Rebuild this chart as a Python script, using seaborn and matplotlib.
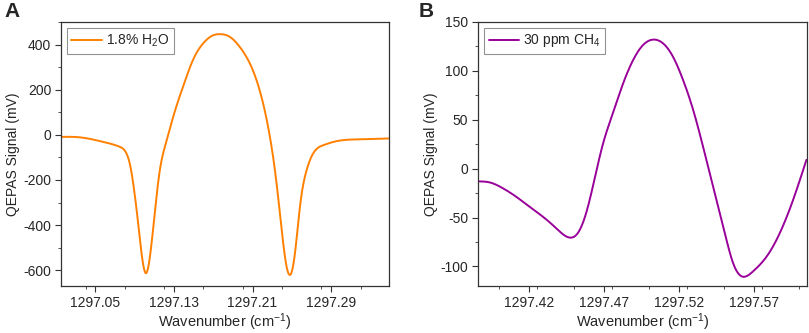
import numpy as np
import pandas as pd
import matplotlib
matplotlib.use("Agg")
import matplotlib.pyplot as plt
from matplotlib.ticker import MultipleLocator, FixedLocator
import seaborn as sns

# ------------------------------
# Data
# ------------------------------
h2o_wn = [1297.0153, 1297.034, 1297.0577, 1297.0748, 1297.0816, 1297.0857, 1297.089,
          1297.0924, 1297.0962, 1297.1013, 1297.106, 1297.1104, 1297.1155, 1297.1224,
          1297.1291, 1297.1393, 1297.1495, 1297.1597, 1297.1699, 1297.1767, 1297.1869,
          1297.1971, 1297.2073, 1297.2141, 1297.2208, 1297.2277, 1297.2328, 1297.2379,
          1297.243, 1297.248, 1297.2532, 1297.2583, 1297.2651, 1297.2718, 1297.282,
          1297.2957, 1297.3194, 1297.349]
h2o_sig = [-9, -11, -31, -53, -82, -141, -230,
           -348, -496, -613, -525, -348, -160, -28,
           78, 214, 333, 405, 441, 446, 434,
           389, 316, 242, 139, -9, -156, -348,
           -540, -621, -525, -318, -156, -82, -46,
           -28, -20, -16]

ch4_wn = [1297.3869, 1297.3936, 1297.4025, 1297.4113, 1297.4202, 1297.4291, 1297.438,
          1297.4468, 1297.4524, 1297.458, 1297.4635, 1297.469, 1297.4757, 1297.4824,
          1297.489, 1297.4957, 1297.5028, 1297.5094, 1297.5161, 1297.5227, 1297.5294,
          1297.536, 1297.5427, 1297.5494, 1297.556, 1297.5616, 1297.5693, 1297.5783,
          1297.5871, 1297.596, 1297.6049]
ch4_sig = [-13, -14, -20, -28.6, -38.8, -49, -60.8,
           -70.4, -66, -45.5, -11.5, 24, 56, 86,
           110, 126, 132, 128, 114, 90.5, 60,
           22.4, -18.4, -59, -96.5, -110, -105, -90,
           -66, -32, 9]

h2o_ticks = [1297.05, 1297.13, 1297.21, 1297.29]
ch4_ticks = [1297.42, 1297.47, 1297.52, 1297.57]

df_a = pd.DataFrame({"wn": h2o_wn, "sig": h2o_sig})
df_b = pd.DataFrame({"wn": ch4_wn, "sig": ch4_sig})


# ------------------------------
# Smooth trace through the read points (natural cubic spline)
# ------------------------------
def smooth(df, n=800):
    x = np.asarray(df["wn"], dtype=float)
    y = np.asarray(df["sig"], dtype=float)
    k = len(x)
    h = np.diff(x)
    A = np.zeros((k, k))
    b = np.zeros(k)
    A[0, 0] = 1
    A[-1, -1] = 1
    for i in range(1, k - 1):
        A[i, i - 1] = h[i - 1]
        A[i, i] = 2 * (h[i - 1] + h[i])
        A[i, i + 1] = h[i]
        b[i] = 6 * ((y[i + 1] - y[i]) / h[i] - (y[i] - y[i - 1]) / h[i - 1])
    M = np.linalg.solve(A, b)
    xs = np.linspace(x[0], x[-1], n)
    idx = np.clip(np.searchsorted(x, xs) - 1, 0, k - 2)
    x0, x1 = x[idx], x[idx + 1]
    hh = h[idx]
    ys = (M[idx] * (x1 - xs) ** 3 / (6 * hh) + M[idx + 1] * (xs - x0) ** 3 / (6 * hh)
          + (y[idx] / hh - M[idx] * hh / 6) * (x1 - xs)
          + (y[idx + 1] / hh - M[idx + 1] * hh / 6) * (xs - x0))
    return pd.DataFrame({"wn": xs, "sig": ys})


# ------------------------------
# Style
# ------------------------------
sns.set_style("ticks")
plt.rcParams['font.family'] = ['Liberation Sans', 'DejaVu Sans']
plt.rcParams['mathtext.default'] = 'regular'
plt.rcParams['axes.unicode_minus'] = False
plt.rcParams['axes.linewidth'] = 0.9

fig = plt.figure(figsize=(8.09, 3.33), dpi=100)
ax_a = fig.add_axes([0.0754, 0.141, 0.4055, 0.793])
ax_b = fig.add_axes([0.591, 0.141, 0.406, 0.793])

sns.lineplot(data=smooth(df_a), x="wn", y="sig", ax=ax_a, color="#FF8000",
             linewidth=1.4, label="1.8% H$_2$O")
sns.lineplot(data=smooth(df_b), x="wn", y="sig", ax=ax_b, color="#990099",
             linewidth=1.4, label="30 ppm CH$_4$")

ax_a.set_xlim(1297.015, 1297.349)
ax_a.set_ylim(-670, 500)
ax_a.xaxis.set_major_locator(FixedLocator(h2o_ticks))
ax_a.xaxis.set_minor_locator(MultipleLocator(0.04))
ax_a.yaxis.set_major_locator(MultipleLocator(200))
ax_a.yaxis.set_minor_locator(MultipleLocator(100))
ax_a.set_xticklabels([f"{t:.2f}" for t in h2o_ticks])

ax_b.set_xlim(1297.386, 1297.605)
ax_b.set_ylim(-120, 150)
ax_b.xaxis.set_major_locator(FixedLocator(ch4_ticks))
ax_b.xaxis.set_minor_locator(MultipleLocator(0.025))
ax_b.yaxis.set_major_locator(MultipleLocator(50))
ax_b.yaxis.set_minor_locator(MultipleLocator(25))
ax_b.set_xticklabels([f"{t:.2f}" for t in ch4_ticks])

for ax in (ax_a, ax_b):
    for s in ax.spines.values():
        s.set_visible(True)
        s.set_color("#333333")
    ax.tick_params(which="both", direction="out", top=False, right=False,
                   labelsize=10, color="#333333", pad=3)
    ax.tick_params(which="major", length=4)
    ax.tick_params(which="minor", length=2.5)
    ax.set_xlabel("Wavenumber (cm$^{-1}$)", fontsize=10.5, labelpad=1)
    ax.set_ylabel("QEPAS Signal (mV)", fontsize=10, labelpad=2)
    leg = ax.legend(loc="upper left", fontsize=10, frameon=True, fancybox=False,
                    edgecolor="#777777", handlelength=2.2, handletextpad=0.3,
                    borderpad=0.35, borderaxespad=0.4)
    leg.get_frame().set_linewidth(0.8)

fig.text(0.005, 0.995, "A", fontsize=15, fontweight="bold", va="top", ha="left")
fig.text(0.518, 0.995, "B", fontsize=15, fontweight="bold", va="top", ha="left")

fig.savefig("out.png", dpi=100)
